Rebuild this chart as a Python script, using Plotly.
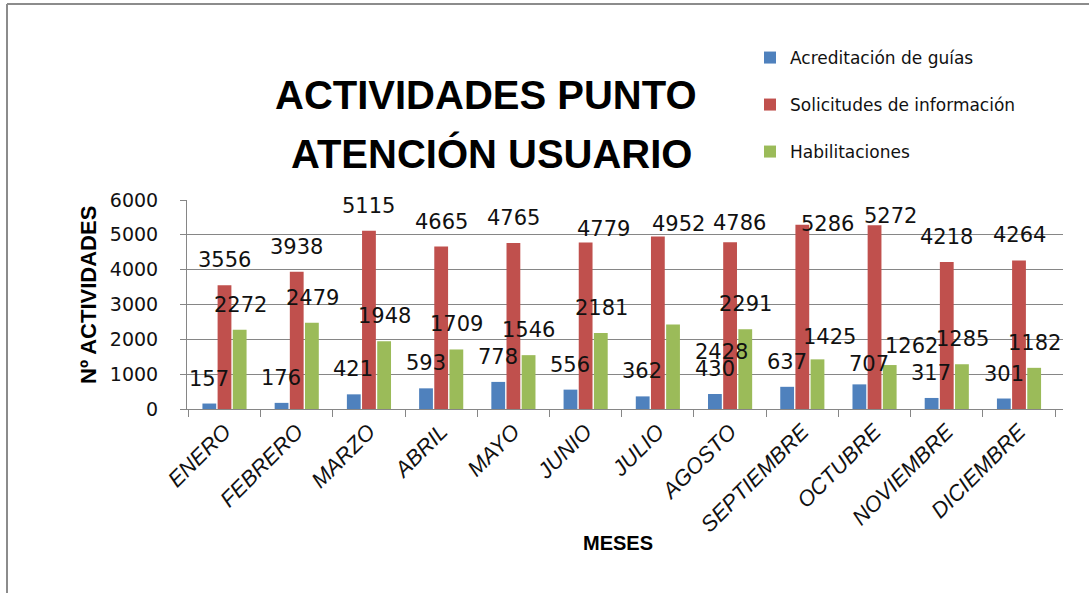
import plotly.graph_objects as go

# Monthly activity counts
meses = ["ENERO", "FEBRERO", "MARZO", "ABRIL", "MAYO", "JUNIO",
         "JULIO", "AGOSTO", "SEPTIEMBRE", "OCTUBRE", "NOVIEMBRE", "DICIEMBRE"]
acreditacion = [157, 176, 421, 593, 778, 556, 362, 430, 637, 707, 317, 301]
solicitudes = [3556, 3938, 5115, 4665, 4765, 4779, 4952, 4786, 5286, 5272, 4218, 4264]
habilitaciones = [2272, 2479, 1948, 1709, 1546, 2181, 2428, 2291, 1425, 1262, 1285, 1182]

series_names = ["Acreditación de guías", "Solicitudes de información", "Habilitaciones"]
colors = ["#4F81BD", "#C0504D", "#9BBB59"]
y_ticks = [0, 1000, 2000, 3000, 4000, 5000, 6000]

# Plot-area geometry (pixels) used to place free text
W, H = 1089, 593
L, R, T, B = 187, 1063, 200, 409


def px_x(px):
    return (px - L) / (R - L)


def px_y(py):
    return (B - py) / (B - T)


fig = go.Figure()
series = [acreditacion, solicitudes, habilitaciones]
legend_ids = ["legend", "legend2", "legend3"]
for name, vals, col, lg in zip(series_names, series, colors, legend_ids):
    fig.add_trace(go.Bar(x=meses, y=vals, name=name, marker=dict(color=col, line=dict(width=0)),
                         legend=lg))

# Data labels: offset of each series inside its group, plus a few hand nudges
bar_offset = [-15.5, 0, 15.5]
nudges = {
    (1, 5): (18, -11), (1, 6): (21, -12), (1, 7): (9, -6), (1, 8): (25, -24), (1, 9): (16, -16),
    (2, 6): (48, -53), (2, 8): (12, -3), (2, 9): (21, -6),
    (0, 9): (10, -5),
}
annotations = []
for s, vals in enumerate(series):
    for i, (m, v) in enumerate(zip(meses, vals)):
        dx, dy = nudges.get((s, i), (0, 0))
        annotations.append(dict(
            x=m, y=v, xref="x", yref="y", text=str(v), showarrow=False,
            xshift=bar_offset[s] + dx, yshift=25 + dy, yanchor="middle", xanchor="center",
            font=dict(family="DejaVu Sans", size=21, color="#111111")))

# Chart title in two lines
title_font = dict(family="Liberation Sans", size=40, color="#000000", weight="bold")
annotations.append(dict(text="ACTIVIDADES PUNTO", x=px_x(486), y=px_y(95), xref="paper", yref="paper",
                        showarrow=False, xanchor="center", yanchor="middle", font=title_font))
annotations.append(dict(text="ATENCIÓN USUARIO", x=px_x(491), y=px_y(153), xref="paper", yref="paper",
                        showarrow=False, xanchor="center", yanchor="middle", font=title_font))
# Axis titles
annotations.append(dict(text="Nº ACTIVIDADES", x=px_x(88), y=px_y(295), xref="paper", yref="paper",
                        showarrow=False, textangle=-90, xanchor="center", yanchor="middle",
                        font=dict(family="Liberation Sans", size=22,
                                  color="#000000", weight="bold")))
annotations.append(dict(text="MESES", x=px_x(618), y=px_y(543), xref="paper", yref="paper",
                        showarrow=False, xanchor="center", yanchor="middle",
                        font=dict(family="Liberation Sans", size=20,
                                  color="#000000", weight="bold")))

# Outer frame lines (top and left edge)
shapes = [
    dict(type="line", xref="paper", yref="paper", x0=px_x(7), x1=px_x(W), y0=px_y(4), y1=px_y(4),
         line=dict(color="#8c8c8c", width=2)),
    dict(type="line", xref="paper", yref="paper", x0=px_x(7), x1=px_x(7), y0=px_y(4), y1=px_y(H),
         line=dict(color="#8c8c8c", width=2)),
]

legend_font = dict(family="DejaVu Sans", size=17, color="#111111")
legend_common = dict(xref="paper", yref="paper", xanchor="left", yanchor="middle",
                     bgcolor="rgba(0,0,0,0)", borderwidth=0, font=legend_font)

fig.update_layout(
    width=W, height=H,
    margin=dict(l=L, r=W - R, t=T, b=H - B, pad=0),
    paper_bgcolor="white", plot_bgcolor="white",
    barmode="group", bargap=0.37, bargroupgap=0.09,
    showlegend=True,
    legend=dict(x=px_x(750), y=px_y(58), **legend_common),
    legend2=dict(x=px_x(750), y=px_y(105), **legend_common),
    legend3=dict(x=px_x(750), y=px_y(152), **legend_common),
    annotations=annotations,
    shapes=shapes,
    xaxis=dict(
        type="category", showgrid=False, showline=True, linecolor="#868686", linewidth=1,
        ticks="outside", tickson="boundaries", ticklen=7, tickcolor="#868686",
        tickangle=-45,
        tickfont=dict(family="Liberation Sans", size=22, color="#111111", style="italic"),
    ),
    yaxis=dict(
        range=[0, 6000], tickvals=y_ticks, showgrid=True, gridcolor="#868686", gridwidth=1,
        showline=True, linecolor="#868686", linewidth=1, ticks="outside", ticklen=6,
        tickcolor="#868686", ticklabelstandoff=18,
        tickfont=dict(family="DejaVu Sans", size=19, color="#111111"), zeroline=False,
    ),
)

fig.write_html("out.html")
